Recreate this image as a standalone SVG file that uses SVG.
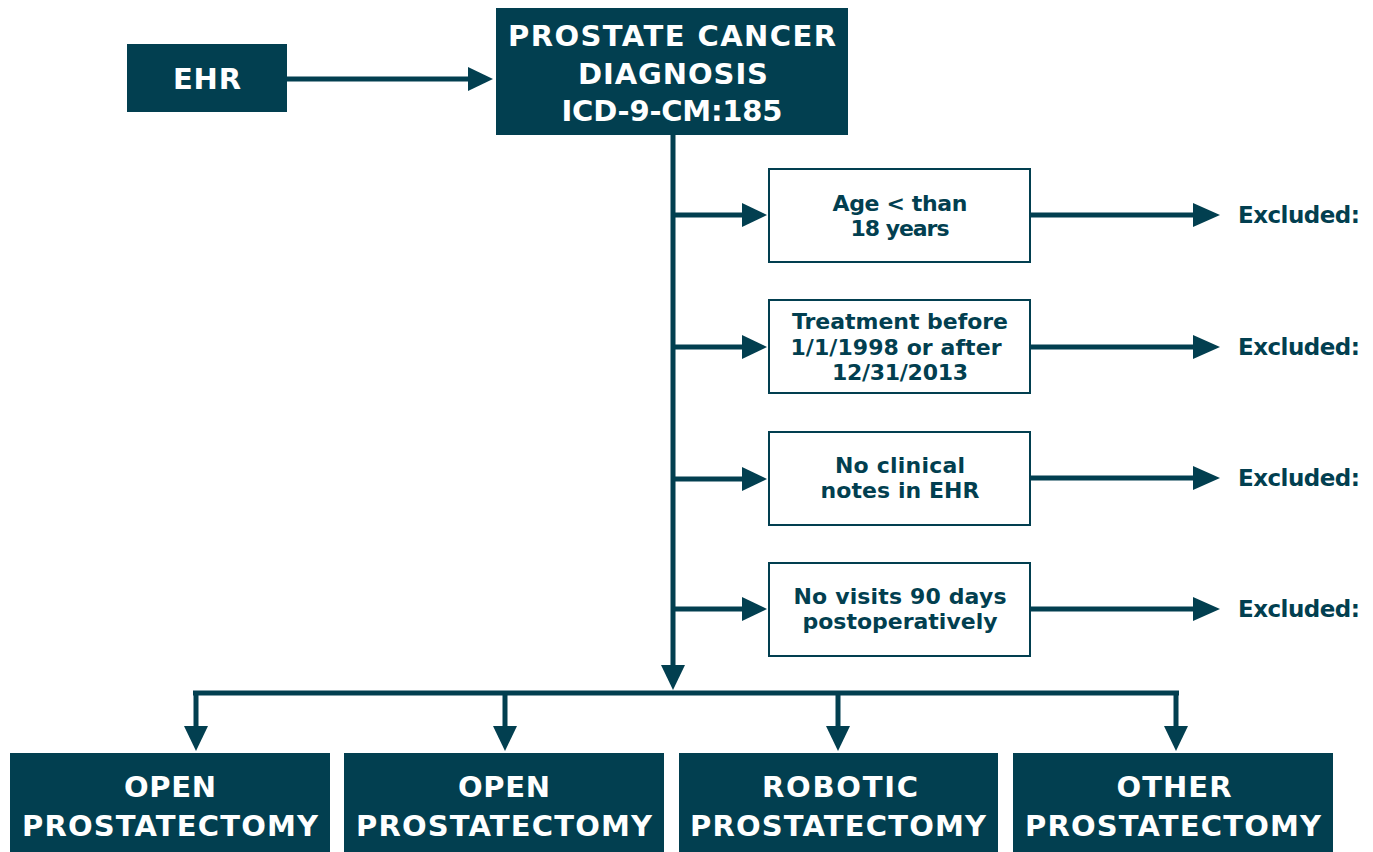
<svg xmlns="http://www.w3.org/2000/svg" width="1373" height="852" viewBox="0 0 1373 852">
<defs>
<style>
.dark{fill:#023f50}
.crit{fill:#fff;stroke:#023f50;stroke-width:2}
.wt{fill:#fff;font-family:"DejaVu Sans",sans-serif;font-weight:bold;font-size:29px;text-anchor:middle}
.ct{fill:#023f50;font-family:"DejaVu Sans",sans-serif;font-weight:bold;font-size:22px;text-anchor:middle}
.ex{fill:#023f50;font-family:"DejaVu Sans",sans-serif;font-weight:bold;font-size:23px}
.ln{stroke:#023f50;stroke-width:5;fill:none}
</style>
</defs>
<g id="connectors">
<path class="ln" d="M287,79 H470"/>
<path d="M468,67 L493,79 L468,91 z" class="dark"/>
<path class="ln" d="M673,135 V668"/>
<path d="M661,665 L673,690 L685,665 z" class="dark"/>
<path class="ln" d="M193,693 H1179"/>
<path class="ln" d="M196,693 V728"/>
<path d="M184,726 L196,751 L208,726 z" class="dark"/>
<path class="ln" d="M505,693 V728"/>
<path d="M493,726 L505,751 L517,726 z" class="dark"/>
<path class="ln" d="M838,693 V728"/>
<path d="M826,726 L838,751 L850,726 z" class="dark"/>
<path class="ln" d="M1176,693 V728"/>
<path d="M1164,726 L1176,751 L1188,726 z" class="dark"/>
<path class="ln" d="M673,215 H745"/>
<path d="M742,203 L767,215 L742,227 z" class="dark"/>
<path class="ln" d="M673,347 H745"/>
<path d="M742,335 L767,347 L742,359 z" class="dark"/>
<path class="ln" d="M673,479 H745"/>
<path d="M742,467 L767,479 L742,491 z" class="dark"/>
<path class="ln" d="M673,609 H745"/>
<path d="M742,597 L767,609 L742,621 z" class="dark"/>
<path class="ln" d="M1031,215 H1196"/>
<path d="M1193,203 L1220,215 L1193,227 z" class="dark"/>
<path class="ln" d="M1031,347 H1196"/>
<path d="M1193,335 L1220,347 L1193,359 z" class="dark"/>
<path class="ln" d="M1031,478 H1196"/>
<path d="M1193,466 L1220,478 L1193,490 z" class="dark"/>
<path class="ln" d="M1031,609 H1196"/>
<path d="M1193,597 L1220,609 L1193,621 z" class="dark"/>
</g>
<g id="ehr">
<rect class="dark" x="127" y="44" width="160" height="68"/>
<text class="wt" x="207" y="89" textLength="68">EHR</text>
</g>
<g id="diagnosis">
<rect class="dark" x="496" y="8" width="352" height="127"/>
<text class="wt" x="672" y="46" textLength="328">PROSTATE CANCER</text>
<text class="wt" x="673" y="84" textLength="190">DIAGNOSIS</text>
<text class="wt" x="672" y="121" textLength="221">ICD-9-CM:185</text>
</g>
<g id="age">
<rect class="crit" x="769" y="169" width="261" height="93"/>
<text class="ct" x="900" y="211" textLength="135">Age &lt; than</text>
<text class="ct" x="900" y="236" textLength="99">18 years</text>
</g>
<g id="treatment">
<rect class="crit" x="769" y="300" width="261" height="93"/>
<text class="ct" x="900" y="329" textLength="216">Treatment before</text>
<text class="ct" x="896" y="355" textLength="211">1/1/1998 or after</text>
<text class="ct" x="900" y="380" textLength="136">12/31/2013</text>
</g>
<g id="notes">
<rect class="crit" x="769" y="432" width="261" height="93"/>
<text class="ct" x="900" y="473" textLength="130">No clinical</text>
<text class="ct" x="900" y="498" textLength="159">notes in EHR</text>
</g>
<g id="visits">
<rect class="crit" x="769" y="563" width="261" height="93"/>
<text class="ct" x="900" y="604" textLength="213">No visits 90 days</text>
<text class="ct" x="900" y="629" textLength="195">postoperatively</text>
</g>
<g id="ex1"><text class="ex" x="1238" y="223" textLength="122">Excluded:</text></g>
<g id="ex2"><text class="ex" x="1238" y="355" textLength="122">Excluded:</text></g>
<g id="ex3"><text class="ex" x="1238" y="486" textLength="122">Excluded:</text></g>
<g id="ex4"><text class="ex" x="1238" y="617" textLength="122">Excluded:</text></g>
<g id="open1">
<rect class="dark" x="10" y="753" width="320" height="99"/>
<text class="wt" x="170" y="797" textLength="92">OPEN</text>
<text class="wt" x="170" y="836" textLength="296">PROSTATECTOMY</text>
</g>
<g id="open2">
<rect class="dark" x="344" y="753" width="320" height="99"/>
<text class="wt" x="504" y="797" textLength="92">OPEN</text>
<text class="wt" x="504" y="836" textLength="296">PROSTATECTOMY</text>
</g>
<g id="robotic">
<rect class="dark" x="679" y="753" width="319" height="99"/>
<text class="wt" x="840" y="797" textLength="156">ROBOTIC</text>
<text class="wt" x="838" y="836" textLength="296">PROSTATECTOMY</text>
</g>
<g id="other">
<rect class="dark" x="1013" y="753" width="320" height="99"/>
<text class="wt" x="1174" y="797" textLength="115">OTHER</text>
<text class="wt" x="1173" y="836" textLength="296">PROSTATECTOMY</text>
</g>
</svg>
